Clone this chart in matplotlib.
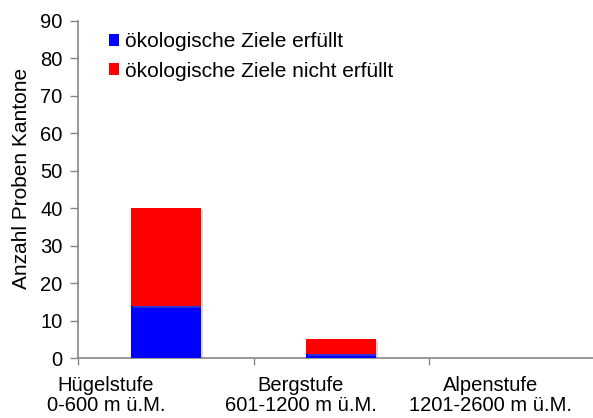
import matplotlib
matplotlib.use("Agg")
import matplotlib.pyplot as plt
import matplotlib.patheffects as pe
from matplotlib.patches import Patch
import numpy as np

categories = ["Hügelstufe\n0-600 m ü.M.", "Bergstufe\n601-1200 m ü.M.", "Alpenstufe\n1201-2600 m ü.M."]
erfuellt = [14, 1, 0]
nicht_erfuellt = [26, 4, 0]
series_names = ["ökologische Ziele erfüllt", "ökologische Ziele nicht erfüllt"]
series_colors = ["#0000FF", "#FF0000"]
yticks = [0, 10, 20, 30, 40, 50, 60, 70, 80, 90]
ylabel = "Anzahl Proben Kantone"

# label positions (layout): offset of category labels relative to bar centres
label_offsets = [-0.34, -0.23, -0.15]

plt.rcParams['font.family'] = ['Liberation Sans', 'DejaVu Sans']
FS = 14.5

fig = plt.figure(figsize=(5.93, 4.18), dpi=100)
ax = fig.add_axes([78/593, 60/418, 526.5/593, 337/418])

x = np.arange(len(categories))
shadow = [pe.SimplePatchShadow(offset=(1.5, -1.5), shadow_rgbFace='#888888', alpha=0.35), pe.Normal()]
ax.bar(x, erfuellt, width=0.4, color=series_colors[0], path_effects=shadow, zorder=3)
ax.bar(x, nicht_erfuellt, bottom=erfuellt, width=0.4, color=series_colors[1], path_effects=shadow, zorder=3)

ax.set_xlim(-0.5, 2.5)
ax.set_ylim(0, 90)
ax.set_yticks(yticks)
ax.set_yticklabels([str(v) for v in yticks], fontsize=FS)

ax.set_xticks([-0.5, 0.5, 1.5])
ax.set_xticklabels([])
ax.set_xticks(x + np.array(label_offsets), minor=True)
ax.set_xticklabels(categories, minor=True, fontsize=FS, linespacing=1.05)
ax.tick_params(axis='x', which='minor', length=0, pad=13)
ax.tick_params(axis='x', which='major', length=5, color='#868686', width=1)
ax.tick_params(axis='y', length=6, color='#868686', width=1, pad=5)

for s in ['top', 'right']:
    ax.spines[s].set_visible(False)
for s in ['left', 'bottom']:
    ax.spines[s].set_color('#868686')
    ax.spines[s].set_linewidth(1.2)

ax.set_ylabel(ylabel, fontsize=15)
ax.yaxis.set_label_coords(-0.089, 0.533)

handles = [Patch(facecolor=c, edgecolor='none') for c in series_colors]
ax.legend(handles=handles, labels=series_names, loc='upper left', bbox_to_anchor=(0.058, 0.967), frameon=False,
          fontsize=15, handlelength=0.5, handleheight=0.5, handletextpad=0.3,
          labelspacing=0.5, borderaxespad=0, borderpad=0)

fig.savefig("out.png", dpi=100)
